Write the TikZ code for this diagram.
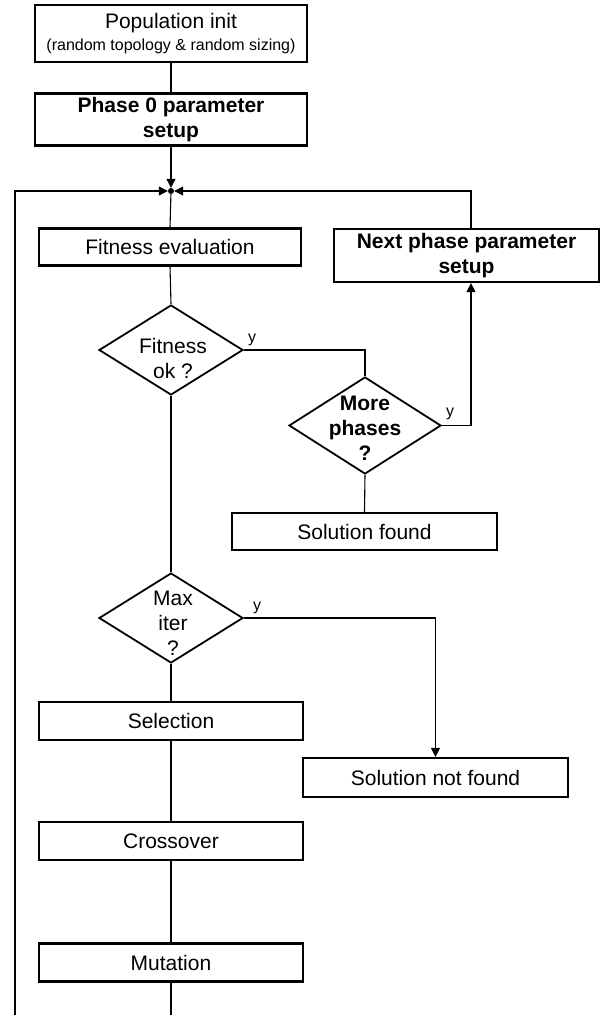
\documentclass[tikz,border=0pt]{standalone}
\usepackage{fontspec}
\setmainfont{Liberation Sans}
\usetikzlibrary{shapes.geometric,arrows.meta,calc}
\begin{document}
\begin{tikzpicture}[x=1pt,y=1pt,
  box/.style={draw, line width=2.2pt, inner sep=0pt, align=center, font=\fontsize{21}{25}\selectfont},
  boldbox/.style={box, font=\bfseries\fontsize{21}{25}\selectfont},
  dia/.style={draw, diamond, line width=1.8pt, inner sep=0pt, minimum width=144pt, minimum height=90pt},
  conn/.style={line width=1.1pt},
  arr/.style={conn, -{Triangle[length=9pt,width=9pt]}},
  ylab/.style={font=\fontsize{16}{18}\selectfont, inner sep=0pt, anchor=base west},
  dtext/.style={align=center, font=\fontsize{21}{25}\selectfont, inner sep=0pt},
  dbold/.style={dtext, font=\bfseries\fontsize{21}{25}\selectfont}
]
\useasboundingbox (0,0) rectangle (611,-1015);

% left column
\node[box, minimum width=272pt, minimum height=57pt] (pop) at (171,-33.5)
  {Population init\\[-3pt]{\fontsize{16}{18}\selectfont (random topology \& random sizing)}};
\node[boldbox, minimum width=272pt, minimum height=52pt] (ph0) at (171,-119.5) {Phase 0 parameter\\setup};
\node[circle, fill, inner sep=0pt, minimum size=6pt] (J) at (171,-191) {};
\node[box, minimum width=262pt, minimum height=37pt] (fit) at (170,-247) {Fitness evaluation};
\node[dia] (fok) at (171,-350) {};
\node[dtext] (fokt) at (173,-358) {Fitness\\ok ?};
\node[dia] (mx) at (171,-618) {};
\node[dtext] (mxt) at (173,-623) {Max\\iter\\?};
\node[box, minimum width=264pt, minimum height=38pt] (sel) at (171,-721) {Selection};
\node[box, minimum width=264pt, minimum height=38pt] (cro) at (171,-841) {Crossover};
\node[box, minimum width=264pt, minimum height=38pt] (mut) at (171,-962.5) {Mutation};

% right side
\node[boldbox, minimum width=265pt, minimum height=53pt] (next) at (466.5,-255.5) {Next phase parameter\\setup};
\node[dia, minimum width=152pt, minimum height=97pt] (more) at (365,-425.5) {};
\node[dbold] (moret) at (365,-428) {More\\phases\\?};
\node[box, minimum width=265pt, minimum height=37pt] (sf) at (364.5,-531.5) {Solution found};
\node[box, minimum width=265pt, minimum height=39pt] (snf) at (435.5,-777.5) {Solution not found};

% y labels
\node[ylab] (y1) at ($(fok.east)+(4,8)$) {y};
\node[ylab] (y2) at ($(more.east)+(4,9)$) {y};
\node[ylab] (y3) at ($(mx.east)+(9,8)$) {y};

% free ends
\coordinate (lb) at (15,-1015);
\coordinate (mb) at (171,-1015);
\coordinate (nt) at ([xshift=4.5pt]next.north);
\coordinate (nb) at ([xshift=4.5pt]next.south);

% connectors
\draw[conn] (pop.south) -- (ph0.north);
\draw[arr] (ph0.south) -- (J);
\draw[conn] (J) -- (fit.north);
\draw[conn] (fit.south) -- (fok.north);
\draw[conn] (fok.south) -- (mx.north);
\draw[conn] (mx.south) -- (sel.north);
\draw[conn] (sel.south) -- (cro.north);
\draw[conn] (cro.south) -- (mut.north);
\draw[conn] (mut.south) -- (mb);
\draw[arr] (lb) |- (J);
\draw[arr] (nt) |- (J);
\draw[conn] (fok.east) -| (more.north);
\draw[arr] (more.east) -| (nb);
\draw[conn] (more.south) -- (sf.north);
\draw[arr] (mx.east) -| (snf.north);
\end{tikzpicture}
\end{document}
